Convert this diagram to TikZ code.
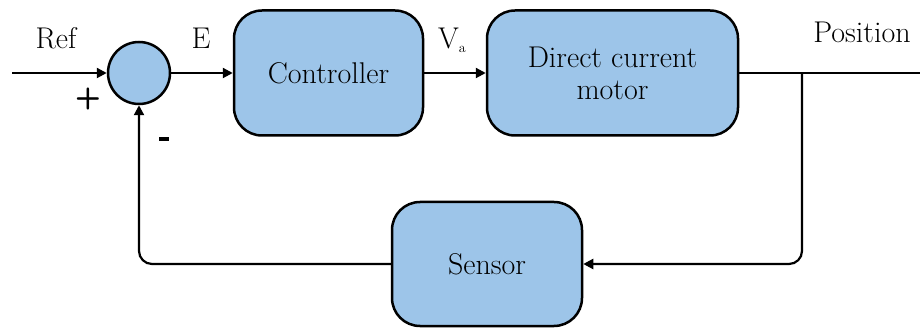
\documentclass[tikz,border=0pt]{standalone}
\usepackage{fontspec}
\usetikzlibrary{arrows.meta}
\definecolor{boxblue}{RGB}{157,197,233}
\begin{document}
\begin{tikzpicture}[x=1pt,y=-1pt,
  wire/.style={line width=2.2pt},
  sig/.style={wire,-{Triangle[length=10pt,width=10pt]}},
  blk/.style={draw=black, line width=2.5pt, fill=boxblue, rounded corners=28pt,
              font=\fontsize{30}{32}\selectfont, align=center, inner sep=0pt},
  sumc/.style={circle, draw=black, line width=2.5pt, fill=boxblue, minimum size=62pt, inner sep=0pt},
  lbl/.style={font=\fontsize{30}{32}\selectfont, inner sep=0pt, anchor=base},
  sgn/.style={font=\sffamily\bfseries\fontsize{30}{30}\selectfont, inner sep=0pt}]
\useasboundingbox (0,0) rectangle (920,328);

% blocks
\node[sumc] (sum) at (139,73) {};
\node[blk, minimum width=189pt, minimum height=125pt] (ctrl) at (328.5,73) {Controller};
\node[blk, minimum width=251pt, minimum height=125pt] (motor) at (612.5,73) {Direct current\\motor};
\node[blk, minimum width=190pt, minimum height=124pt] (sens) at (487,264) {Sensor};

% free ends and branch point
\coordinate (in) at (12,73);
\coordinate (out) at (920,73);
\coordinate (br) at (802,73);

% forward path
\draw[sig] (in) -- (sum);
\draw[sig] (sum) -- (ctrl);
\draw[sig] (ctrl) -- (motor);
\draw[wire] (motor) -- (out);

% feedback path
\draw[sig, rounded corners=13pt] (br) |- (sens.east);
\draw[sig, rounded corners=13pt] (sens.west) -| (sum.south);

% signal labels
\node[lbl] (ref) at (56,49) {Ref};
\node[lbl] (err) at (201,49) {E};
\node[lbl] (va) at (452,49) {V\raisebox{-4pt}{\fontsize{14}{14}\selectfont a}};
\node[lbl] (pos) at (862,43) {Position};
\node[sgn] (plus) at (88,99) {+};
\node[sgn] (minus) at (164,139) {\rule{10pt}{3.5pt}};
\end{tikzpicture}
\end{document}
